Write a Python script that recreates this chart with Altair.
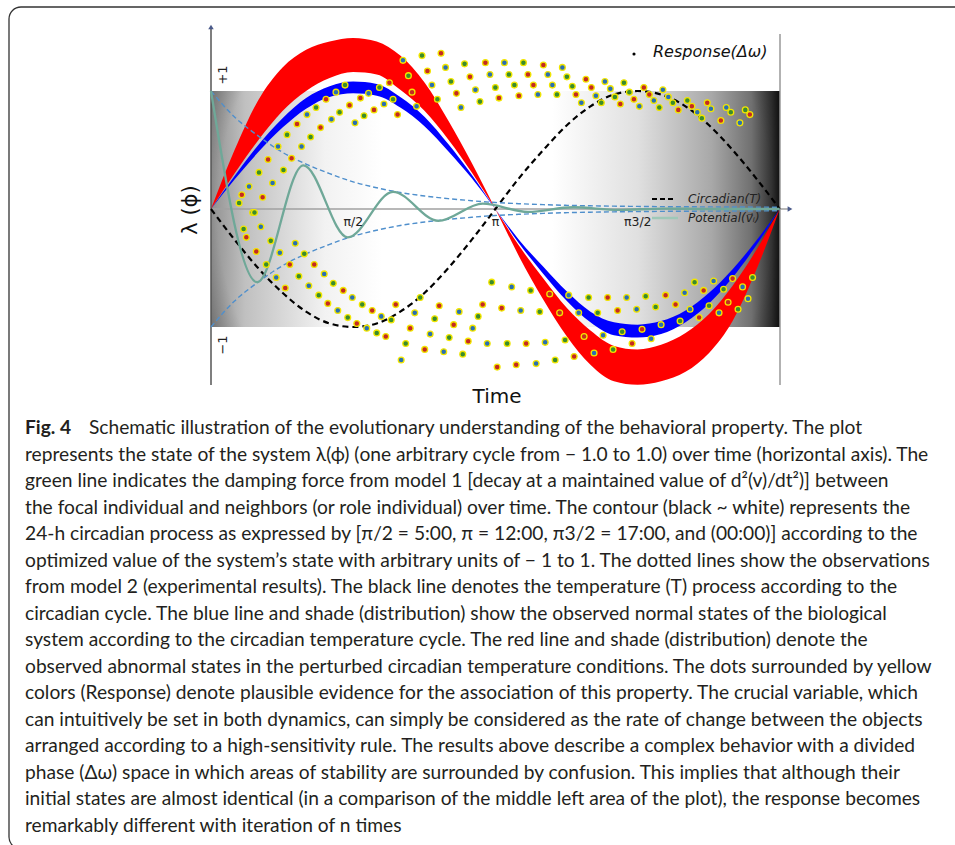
import altair as alt
import pandas as pd

# ---------------- data (phase in radians, state lambda in arbitrary units) ----------------
phase = [0.00, 0.26, 0.52, 0.79, 1.05, 1.31, 1.57, 1.83, 2.09, 2.36, 2.62, 2.88, 3.14,
         3.40, 3.67, 3.93, 4.19, 4.45, 4.71, 4.97, 5.24, 5.50, 5.76, 6.02, 6.28]
red_outer = [0, 0.50, 0.92, 1.20, 1.35, 1.42, 1.45, 1.42, 1.30, 1.07, 0.75, 0.39, 0,
             -0.40, -0.77, -1.08, -1.32, -1.46, -1.49, -1.46, -1.38, -1.22, -0.95, -0.52, 0]
red_inner = [0, 0.30, 0.58, 0.83, 1.00, 1.11, 1.16, 1.14, 1.01, 0.83, 0.59, 0.31, 0,
             -0.31, -0.59, -0.84, -1.03, -1.16, -1.19, -1.15, -1.05, -0.89, -0.65, -0.35, 0]
blue_outer = [0, 0.28, 0.54, 0.77, 0.94, 1.04, 1.08, 1.06, 0.95, 0.78, 0.55, 0.29, 0,
              -0.29, -0.55, -0.78, -0.96, -1.07, -1.09, -1.06, -0.96, -0.80, -0.58, -0.31, 0]
blue_inner = [0, 0.25, 0.48, 0.69, 0.85, 0.95, 0.98, 0.96, 0.86, 0.70, 0.49, 0.26, 0,
              -0.26, -0.49, -0.70, -0.87, -0.96, -0.98, -0.95, -0.86, -0.71, -0.51, -0.27, 0]
circadian = [0, -0.26, -0.50, -0.71, -0.87, -0.97, -1.00, -0.97, -0.87, -0.71, -0.50, -0.26, 0,
             0.26, 0.50, 0.71, 0.87, 0.97, 1.00, 0.97, 0.87, 0.71, 0.50, 0.26, 0]
envelope = [1.00, 0.78, 0.62, 0.48, 0.38, 0.30, 0.23, 0.18, 0.14, 0.11, 0.088, 0.070, 0.055,
            0.045, 0.037, 0.031, 0.027, 0.024, 0.022, 0.020, 0.019, 0.018, 0.017, 0.016, 0.015]

potential_x = [0.00, 0.51, 1.02, 1.51, 2.01, 2.51, 3.00, 3.50, 4.00, 4.50, 5.00, 5.50, 6.28]
potential_y = [1.00, -0.62, 0.37, -0.24, 0.145, -0.10, 0.045, -0.025, 0.015, -0.008, 0.004, 0.0, 0.0]

dot_x = [
    0.31, 0.34, 0.42, 0.53, 0.63, 0.74, 0.84, 0.95, 1.06, 1.16, 1.27, 1.38, 1.48,
    1.65, 1.74, 1.86, 1.97,
    0.46, 0.48, 0.57, 0.68, 0.80, 0.89, 1.00, 1.10, 1.21, 1.33, 1.42, 1.53,
    1.59, 1.69, 1.80, 1.91, 2.01, 2.06,
    2.12, 2.18, 2.22, 2.27, 2.33, 2.39, 2.44, 2.50, 2.54, 2.59, 2.65, 2.71, 2.76,
    2.80, 2.86, 2.92, 2.97, 3.03, 3.08, 3.14, 3.18,
    3.24, 3.45, 3.67, 3.88,
    3.29, 3.50, 3.72, 3.93, 4.14, 4.35, 4.56, 4.78, 4.99,
    3.35, 3.56, 3.77, 3.99, 4.20, 4.41, 4.62, 4.84, 5.05, 5.26, 5.48, 5.69, 5.90,
    3.40, 3.61, 3.82, 4.03, 4.25, 4.46, 4.67, 4.89, 5.10, 5.31, 5.52, 5.74, 5.95,
    4.09, 4.31, 4.52, 4.73, 4.95, 5.16, 5.37, 5.42, 5.63, 5.84,
    0.36, 0.39, 0.55, 0.66, 0.50, 0.76, 0.61, 0.87, 0.72, 0.97, 0.82, 1.08, 1.19, 1.29,
    1.40, 1.51, 1.61, 1.72, 1.83, 1.93,
    0.93, 1.03, 1.14, 1.25, 1.35, 1.46, 1.56, 1.67, 1.78, 1.88, 1.99,
    2.04, 2.10, 2.15, 2.20, 2.25, 2.31, 2.36, 2.42, 2.47, 2.52, 2.57, 2.63, 2.68, 2.74,
    2.78, 2.84, 2.89, 2.95, 3.00, 3.05, 3.10, 3.16,
    3.32, 3.53, 3.74, 3.95, 4.17, 4.38, 4.59, 4.80, 5.02, 5.23, 5.34, 5.44, 5.55, 5.66,
    5.76, 5.87, 5.98,
    3.21, 3.42, 3.63, 3.85, 4.06, 4.27, 4.49, 4.70, 4.91, 5.13, 5.29, 5.50, 5.71, 5.93,
    3.27, 3.48, 3.69, 3.91, 4.12, 4.33, 4.54, 4.76, 4.97, 5.18, 5.39, 5.61, 5.82,
    3.37, 3.59, 3.80, 4.01, 4.23, 4.44, 4.65, 4.86,
]
dot_y = [
    0.05, 0.12, 0.19, 0.31, 0.42, 0.53, 0.63, 0.72, 0.80, 0.86, 0.93, 0.99, 1.05,
    0.94, 0.98, 1.03, 1.07,
    -0.03, -0.03, 0.10, 0.22, 0.33, 0.43, 0.53, 0.61, 0.69, 0.76, 0.82, 0.88,
    0.73, 0.79, 0.84, 0.89, 0.93, 0.80,
    1.26, 1.13, 0.99, 0.87, 1.30, 1.17, 1.05, 0.93, 1.32, 1.20, 1.08, 0.98, 0.86,
    1.23, 1.12, 1.01, 0.91, 1.24, 1.14, 1.03, 0.94,
    1.24, 1.24, 1.22, 1.20,
    1.14, 1.14, 1.14, 1.12, 1.10, 1.08, 1.07, 1.03, 1.01,
    1.05, 1.05, 1.05, 1.04, 1.03, 1.02, 0.99, 0.97, 0.95, 0.92, 0.90, 0.86, 0.84,
    0.96, 0.97, 0.97, 0.97, 0.96, 0.95, 0.93, 0.92, 0.90, 0.87, 0.85, 0.82, 0.80,
    0.90, 0.90, 0.89, 0.87, 0.86, 0.84, 0.82, 0.77, 0.75, 0.73,
    -0.17, -0.24, -0.15, -0.27, -0.36, -0.37, -0.47, -0.47, -0.58, -0.57, -0.67, -0.65, -0.73, -0.80,
    -0.86, -0.92, -0.97, -1.01, -1.05, -1.08,
    -0.29, -0.38, -0.47, -0.55, -0.63, -0.69, -0.75, -0.81, -0.86, -0.91, -0.94,
    -0.81, -1.28, -1.14, -1.01, -0.88, -0.75, -1.19, -1.06, -0.93, -0.82, -1.21, -1.09, -0.98, -0.87,
    -1.23, -1.12, -1.01, -0.91, -0.81, -1.14, -0.62, -1.34,
    -0.66, -0.69, -0.72, -0.73, -0.75, -0.75, -0.75, -0.74, -0.73, -0.71, -0.62, -0.69, -0.61, -0.68,
    -0.59, -0.66, -0.58,
    -0.84, -0.86, -0.87, -0.88, -0.88, -0.88, -0.86, -0.85, -0.83, -0.81, -0.85, -0.82, -0.79, -0.76,
    -1.14, -1.14, -1.13, -1.11, -1.08, -1.07, -1.04, -1.02, -0.98, -0.95, -0.92, -0.88, -0.85,
    -1.32, -1.31, -1.28, -1.25, -1.22, -1.19, -1.14, -1.10,
]
_cyc = ["g", "r", "b"]
dot_c = [_cyc[i % 3] for i in range(len(dot_x))]

tick_phase = [1.5708, 3.1416, 4.7124]
tick_text = ["π/2", "π", "π3/2"]

caption_lines = [
    "represents the state of the system λ(ϕ) (one arbitrary cycle from − 1.0 to 1.0) over time (horizontal axis). The",
    "green line indicates the damping force from model 1 [decay at a maintained value of d²(v)/dt²)] between",
    "the focal individual and neighbors (or role individual) over time. The contour (black ~ white) represents the",
    "24-h circadian process as expressed by [π/2 = 5:00, π = 12:00, π3/2 = 17:00, and (00:00)] according to the",
    "optimized value of the system’s state with arbitrary units of − 1 to 1. The dotted lines show the observations",
    "from model 2 (experimental results). The black line denotes the temperature (T) process according to the",
    "circadian cycle. The blue line and shade (distribution) show the observed normal states of the biological",
    "system according to the circadian temperature cycle. The red line and shade (distribution) denote the",
    "observed abnormal states in the perturbed circadian temperature conditions. The dots surrounded by yellow",
    "colors (Response) denote plausible evidence for the association of this property. The crucial variable, which",
    "can intuitively be set in both dynamics, can simply be considered as the rate of change between the objects",
    "arranged according to a high-sensitivity rule. The results above describe a complex behavior with a divided",
    "phase (Δω) space in which areas of stability are surrounded by confusion. This implies that although their",
    "initial states are almost identical (in a comparison of the middle left area of the plot), the response becomes",
    "remarkably different with iteration of n times",
]
caption_first = "Schematic illustration of the evolutionary understanding of the behavioral property. The plot"

# ---------------- tables ----------------
band_df = pd.DataFrame({"phase": phase, "ro": red_outer, "ri": red_inner,
                        "bo": blue_outer, "bi": blue_inner, "circ": circadian})
env_df = pd.DataFrame({"phase": phase * 2,
                       "v": envelope + [-e for e in envelope],
                       "side": ["up"] * len(phase) + ["down"] * len(phase)})
pot_df = pd.DataFrame({"phase": potential_x, "v": potential_y})
dot_df = pd.DataFrame({"phase": dot_x, "v": dot_y, "c": dot_c})
tick_df = pd.DataFrame({"phase": tick_phase, "t": tick_text})
bg_df = pd.DataFrame({"x0": [0.0], "x1": [6.2832], "y0": [-1.0], "y1": [1.0]})
cap_df = pd.DataFrame({"i": list(range(1, len(caption_lines) + 1)), "t": caption_lines})
one = pd.DataFrame({"k": [0]})

X = alt.Scale(domain=[0, 6.2832], range=[211, 780], nice=False, zero=False)
Y = alt.Scale(domain=[-1, 1], range=[327, 91], nice=False, zero=False)


def xq(f):
    return alt.X(f, type="quantitative", scale=X, axis=None)


def yq(f):
    return alt.Y(f, type="quantitative", scale=Y, axis=None)


DV = "DejaVu Sans"
CAP_FONT = "Lato"
CAP_SIZE = 19.2

layers = []

# frame
layers.append(alt.Chart(one).mark_rect(filled=False, stroke="#333", strokeWidth=1.3, cornerRadius=12).encode(
    x=alt.value(9), x2=alt.value(990), y=alt.value(7), y2=alt.value(849)))

# background contour
layers.append(alt.Chart(bg_df).mark_rect(color=alt.Gradient(
    gradient="linear", x1=0, x2=1, y1=0, y2=0,
    stops=[alt.GradientStop(offset=0, color="#909090"),
           alt.GradientStop(offset=0.06, color="#c0c0c0"),
           alt.GradientStop(offset=0.2, color="#f2f2f2"),
           alt.GradientStop(offset=0.3, color="#ffffff"),
           alt.GradientStop(offset=0.6, color="#ffffff"),
           alt.GradientStop(offset=0.75, color="#e0e0e0"),
           alt.GradientStop(offset=0.88, color="#a8a8a8"),
           alt.GradientStop(offset=0.95, color="#707070"),
           alt.GradientStop(offset=0.985, color="#333333"),
           alt.GradientStop(offset=1.0, color="#111111")])).encode(
    x=xq("x0"), x2="x1", y=yq("y0"), y2="y1"))
layers.append(alt.Chart(bg_df).mark_rect(color=alt.Gradient(
    gradient="radial", x1=0.5, y1=0.5, r1=0, x2=0.5, y2=0.5, r2=0.72,
    stops=[alt.GradientStop(offset=0, color="rgba(0,0,0,0)"),
           alt.GradientStop(offset=0.68, color="rgba(0,0,0,0)"),
           alt.GradientStop(offset=1.0, color="rgba(0,0,0,0.95)")])).encode(
    x=xq("x0"), x2="x1", y=yq("y0"), y2="y1"))

# axes lines
layers.append(alt.Chart(one).mark_rule(color="#a0a0a0", strokeWidth=1.5).encode(
    x=alt.value(211), x2=alt.value(788), y=alt.value(209)))
layers.append(alt.Chart(one).mark_rule(color="#555", strokeWidth=1.5).encode(
    x=alt.value(211), y=alt.value(28), y2=alt.value(385)))
layers.append(alt.Chart(one).mark_rule(color="#999", strokeWidth=1.5).encode(
    x=alt.value(780), y=alt.value(34), y2=alt.value(385)))
layers.append(alt.Chart(one).mark_point(shape="triangle-up", filled=True, size=30, color="#4a5a8a", opacity=1).encode(
    x=alt.value(211), y=alt.value(27)))
layers.append(alt.Chart(one).mark_point(shape="triangle-right", filled=True, size=30, color="#4a5a8a", opacity=1).encode(
    x=alt.value(790), y=alt.value(209)))

# bands
layers.append(alt.Chart(band_df).mark_area(color="#ff0000", interpolate="monotone", opacity=1).encode(
    x=xq("phase"), y=yq("ro"), y2="ri"))
layers.append(alt.Chart(band_df).mark_area(color="#0000ff", interpolate="monotone", opacity=1).encode(
    x=xq("phase"), y=yq("bo"), y2="bi"))

# circadian
layers.append(alt.Chart(band_df).mark_line(color="black", strokeDash=[6, 4], strokeWidth=2.2,
                                           interpolate="monotone").encode(x=xq("phase"), y=yq("circ")))
# envelopes
layers.append(alt.Chart(env_df).mark_line(color="#4f8fcc", strokeDash=[5, 3], strokeWidth=1.4,
                                          interpolate="monotone").encode(
    x=xq("phase"), y=yq("v"), detail="side:N"))
# potential
layers.append(alt.Chart(pot_df).mark_line(color="#6fa898", strokeWidth=2.3, interpolate="monotone").encode(
    x=xq("phase"), y=yq("v")))

# dots
layers.append(alt.Chart(dot_df).mark_circle(size=34, stroke="#f2e600", strokeWidth=1.3, opacity=1).encode(
    x=xq("phase"), y=yq("v"),
    color=alt.Color("c:N", scale=alt.Scale(domain=["r", "g", "b"], range=["#c42a22", "#3a8c2c", "#2a6fb2"]),
                    legend=None)))

# tick labels
layers.append(alt.Chart(tick_df).mark_text(font=DV, fontSize=12.5, color="#222", baseline="middle").encode(
    x=xq("phase"), y=alt.value(222), text="t:N"))
layers.append(alt.Chart(one).mark_text(text="+1", font=DV, fontSize=13, angle=270, color="#222").encode(
    x=alt.value(223), y=alt.value(75)))
layers.append(alt.Chart(one).mark_text(text="−1", font=DV, fontSize=13, angle=270, color="#222").encode(
    x=alt.value(223), y=alt.value(345)))

# axis titles
layers.append(alt.Chart(one).mark_text(text="Time", font=DV, fontSize=20, color="#111").encode(
    x=alt.value(497), y=alt.value(397)))
layers.append(alt.Chart(one).mark_text(text="λ (ϕ)", font=DV, fontSize=21, angle=270, color="#111").encode(
    x=alt.value(191), y=alt.value(210)))

# legend
layers.append(alt.Chart(one).mark_circle(size=10, color="black", opacity=1).encode(
    x=alt.value(634), y=alt.value(54)))
layers.append(alt.Chart(one).mark_text(text="Response(Δω)", font=DV, fontSize=16, fontStyle="italic",
                                       align="left", color="#111").encode(x=alt.value(653), y=alt.value(52)))
layers.append(alt.Chart(one).mark_rule(color="black", strokeDash=[5, 3], strokeWidth=2).encode(
    x=alt.value(652), x2=alt.value(676), y=alt.value(199)))
layers.append(alt.Chart(one).mark_text(text="Circadian(T)", font=DV, fontSize=12, fontStyle="italic",
                                       align="left", color="#222").encode(x=alt.value(688), y=alt.value(199)))
layers.append(alt.Chart(one).mark_rule(color="#9fc8b8", strokeWidth=2.5).encode(
    x=alt.value(652), x2=alt.value(678), y=alt.value(218)))
layers.append(alt.Chart(one).mark_text(text="Potential(v⃗ᵢ)", font=DV, fontSize=12, fontStyle="italic",
                                       align="left", color="#222").encode(x=alt.value(688), y=alt.value(218)))

# caption
layers.append(alt.Chart(one).mark_text(text="Fig. 4", font=CAP_FONT, fontSize=CAP_SIZE, fontWeight="bold",
                                       align="left", baseline="middle", color="#231f20").encode(
    x=alt.value(25), y=alt.value(428)))
layers.append(alt.Chart(one).mark_text(text=caption_first, font=CAP_FONT, fontSize=CAP_SIZE,
                                       align="left", baseline="middle", color="#231f20").encode(
    x=alt.value(89), y=alt.value(428)))
layers.append(alt.Chart(cap_df).mark_text(font=CAP_FONT, fontSize=CAP_SIZE, align="left", baseline="middle",
                                          color="#231f20").encode(
    x=alt.value(25),
    y=alt.Y("i:Q", scale=alt.Scale(domain=[0, 15], range=[428, 825.5], nice=False, zero=False), axis=None),
    text="t:N"))

chart = alt.layer(*layers).properties(
    width=955, height=845, padding=0, autosize="none"
).resolve_scale(y="independent").configure_view(stroke=None)

chart.save("out.html", embed_options={"renderer": "svg", "actions": False})
